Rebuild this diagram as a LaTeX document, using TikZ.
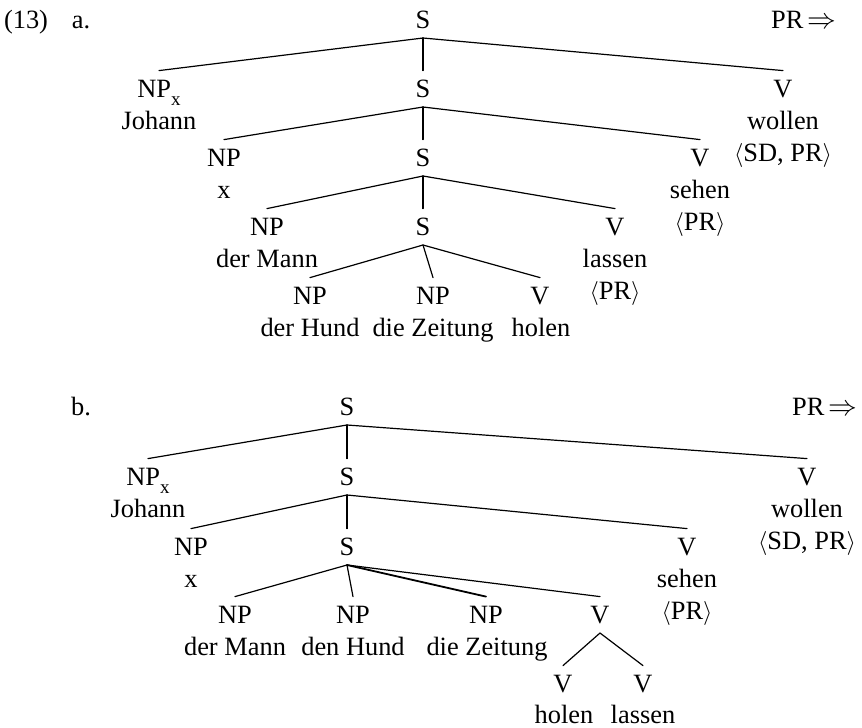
\documentclass[tikz,border=0pt]{standalone}
\usepackage{fontspec}
\setmainfont{Liberation Serif}
\newcommand{\bigimpl}{{\fontsize{15}{16}\selectfont$\Rightarrow$}}
\newcommand{\subx}{\raisebox{-0.7ex}{\fontsize{9.5}{10}\selectfont x}}
\begin{document}
\begin{tikzpicture}[x=0.5pt,y=-0.5pt,
  every node/.style={font=\fontsize{13.2}{16}\selectfont},
  cat/.style={anchor=base, inner xsep=0pt, inner ysep=4.8pt, text height=8.2pt, text depth=0pt},
  word/.style={anchor=base, inner sep=0pt},
  branch/.style={line width=0.6pt, line cap=round}]
\useasboundingbox (0,0) rectangle (862,728);
% ---------- (13a) ----------
\node[word] (exnum) at (26,28) {(13)};
\node[word] (alabel) at (81,28) {a.};
\node[word, anchor=base east] (aPR) at (837,28) {PR\,\bigimpl};
\node[cat] (aS1) at (423,28) {S};
\node[cat] (aNPx) at (159,97) {NP\subx};
\node[word] (aJohann) at (159,129) {Johann};
\node[cat] (aS2) at (423,97) {S};
\node[cat] (aV1) at (783,97) {V};
\node[word] (awollen) at (783,129) {wollen};
\node[word] (aSDPR) at (783,161) {$\langle$SD, PR$\rangle$};
\node[cat] (aNP2) at (224,166) {NP};
\node[word] (ax) at (224,198) {x};
\node[cat] (aS3) at (423,166) {S};
\node[cat] (aV2) at (700,166) {V};
\node[word] (asehen) at (700,198) {sehen};
\node[word] (aPRb) at (700,230) {$\langle$PR$\rangle$};
\node[cat] (aNP3) at (267,235) {NP};
\node[word] (aMann) at (267,267) {der Mann};
\node[cat] (aS4) at (423,235) {S};
\node[cat] (aV3) at (615,235) {V};
\node[word] (alassen) at (615,267) {lassen};
\node[word] (aPRc) at (615,299) {$\langle$PR$\rangle$};
\node[cat] (aNP4) at (310,304) {NP};
\node[word] (aHund) at (310,336) {der Hund};
\node[cat] (aNP5) at (433,304) {NP};
\node[word] (aZeitung) at (433,336) {die Zeitung};
\node[cat] (aV4) at (540,304) {V};
\node[word] (aholen) at (541,336) {holen};
\draw[branch] (aS1.south) -- (aNPx.north);
\draw[branch] (aS1.south) -- (aS2.north);
\draw[branch] (aS1.south) -- (aV1.north);
\draw[branch] (aS2.south) -- (aNP2.north);
\draw[branch] (aS2.south) -- (aS3.north);
\draw[branch] (aS2.south) -- (aV2.north);
\draw[branch] (aS3.south) -- (aNP3.north);
\draw[branch] (aS3.south) -- (aS4.north);
\draw[branch] (aS3.south) -- (aV3.north);
\draw[branch] (aS4.south) -- (aNP4.north);
\draw[branch] (aS4.south) -- (aNP5.north);
\draw[branch] (aS4.south) -- (aV4.north);
% ---------- (13b) ----------
\node[word] (blabel) at (81,415) {b.};
\node[word, anchor=base east] (bPR) at (858,415) {PR\,\bigimpl};
\node[cat] (bS1) at (347,415) {S};
\node[cat] (bNPx) at (148,485) {NP\subx};
\node[word] (bJohann) at (148,517) {Johann};
\node[cat] (bS2) at (347,485) {S};
\node[cat] (bV1) at (807,485) {V};
\node[word] (bwollen) at (807,517) {wollen};
\node[word] (bSDPR) at (807,549) {$\langle$SD, PR$\rangle$};
\node[cat] (bNP2) at (191,555) {NP};
\node[word] (bx) at (191,587) {x};
\node[cat] (bS3) at (347,555) {S};
\node[cat] (bV2) at (687,555) {V};
\node[word] (bsehen) at (687,587) {sehen};
\node[word] (bPRb) at (687,619) {$\langle$PR$\rangle$};
\node[cat] (bNP3) at (235,623) {NP};
\node[word] (bMann) at (235,655) {der Mann};
\node[cat] (bNP4) at (353,623) {NP};
\node[word] (bHund) at (353,655) {den Hund};
\node[cat] (bNP5) at (486,623) {NP};
\node[word] (bZeitung) at (487,655) {die Zeitung};
\node[cat] (bV3) at (600,623) {V};
\node[cat] (bV4) at (563,692) {V};
\node[word] (bholen) at (564,723) {holen};
\node[cat] (bV5) at (643,692) {V};
\node[word] (blassen) at (643,723) {lassen};
\draw[branch] (bS1.south) -- (bNPx.north);
\draw[branch] (bS1.south) -- (bS2.north);
\draw[branch] (bS1.south) -- (bV1.north);
\draw[branch] (bS2.south) -- (bNP2.north);
\draw[branch] (bS2.south) -- (bS3.north);
\draw[branch] (bS2.south) -- (bV2.north);
\draw[branch] (bS3.south) -- (bNP3.north);
\draw[branch] (bS3.south) -- (bNP4.north);
\draw[branch, line width=0.9pt] (bS3.south) -- (bNP5.north);
\draw[branch] (bS3.south) -- (bV3.north);
\draw[branch] (bV3.south) -- (bV4.north);
\draw[branch] (bV3.south) -- (bV5.north);
\end{tikzpicture}
\end{document}
